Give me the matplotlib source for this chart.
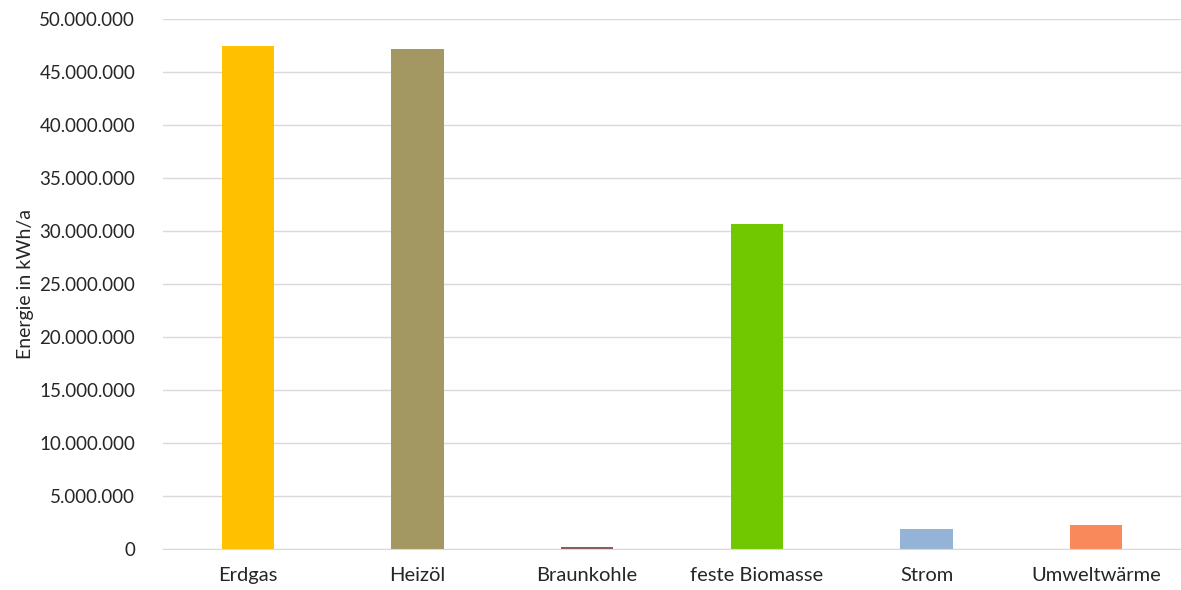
import matplotlib
matplotlib.use("Agg")
import matplotlib.pyplot as plt
from matplotlib.ticker import FuncFormatter

categories = ["Erdgas", "Heizöl", "Braunkohle", "feste Biomasse", "Strom", "Umweltwärme"]
values = [47_400_000, 47_200_000, 150_000, 30_700_000, 1_900_000, 2_300_000]
bar_colors = ["#FFC000", "#A39861", "#8C5A5A", "#72C800", "#95B3D7", "#F9885A"]

plt.rcParams["font.family"] = ["Lato", "DejaVu Sans"]

fig = plt.figure(figsize=(11.81, 5.9), dpi=100, facecolor="white")
ax = fig.add_axes([0.138, 0.0695, 0.862, 0.8985])

x = range(len(categories))
ax.bar(x, values, width=0.31, color=bar_colors, zorder=3)

ax.set_xlim(-0.5, len(categories) - 0.5)
ax.set_ylim(0, 50_000_000)
ax.set_yticks(range(0, 50_000_001, 5_000_000))
ax.yaxis.set_major_formatter(FuncFormatter(lambda v, _: f"{int(v):,}".replace(",", ".")))
ax.grid(axis="y", color="#D9D9D9", linewidth=1, zorder=0)

ax.set_xticks(list(x))
ax.set_xticklabels(categories)
ax.tick_params(axis="x", length=0, labelsize=14.5, colors="#262626", pad=13)
ax.tick_params(axis="y", length=0, labelsize=13.5, colors="#262626", pad=20)
for s in ["top", "right", "left"]:
    ax.spines[s].set_visible(False)
ax.spines["bottom"].set_color("#D9D9D9")
ax.spines["bottom"].set_zorder(4)

ax.set_ylabel("Energie in kWh/a", fontsize=14, color="#262626", labelpad=4)

fig.savefig("out.png", dpi=100, facecolor="white")
